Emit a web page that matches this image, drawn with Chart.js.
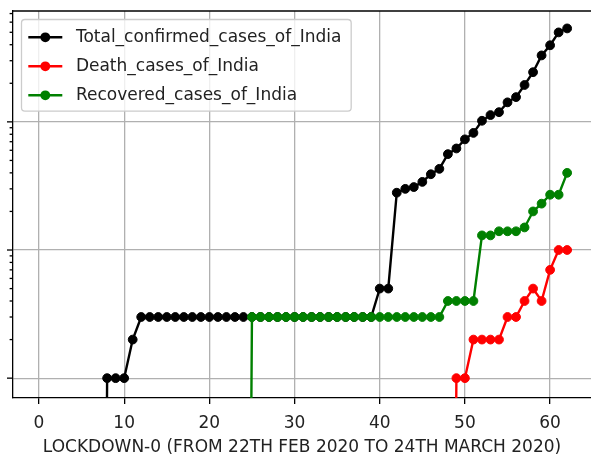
<!DOCTYPE html>
<html><head><meta charset="utf-8">
<script src="https://cdn.jsdelivr.net/npm/chart.js@4.4.0/dist/chart.umd.min.js"></script>
<style>html,body{margin:0;padding:0;background:#fff}#wrap{width:591px;height:454px;position:relative}</style>
</head><body><div id="wrap"><canvas id="c"></canvas></div>
<script>
// ---- data (day index from 22 Jan 2020) ----
const days = [0,1,2,3,4,5,6,7,8,9,10,11,12,13,14,15,16,17,18,19,20,21,22,23,24,25,26,27,28,29,30,31,32,33,34,35,36,37,38,39,40,41,42,43,44,45,46,47,48,49,50,51,52,53,54,55,56,57,58,59,60,61,62];
const totalCases = [0,0,0,0,0,0,0,0,1,1,1,2,3,3,3,3,3,3,3,3,3,3,3,3,3,3,3,3,3,3,3,3,3,3,3,3,3,3,3,3,5,5,28,30,31,34,39,43,56,62,73,82,102,113,119,142,156,194,244,330,396,499,536];
const deathCases = [0,0,0,0,0,0,0,0,0,0,0,0,0,0,0,0,0,0,0,0,0,0,0,0,0,0,0,0,0,0,0,0,0,0,0,0,0,0,0,0,0,0,0,0,0,0,0,0,0,1,1,2,2,2,2,3,3,4,5,4,7,10,10];
const recoveredCases = [0,0,0,0,0,0,0,0,0,0,0,0,0,0,0,0,0,0,0,0,0,0,0,0,0,3,3,3,3,3,3,3,3,3,3,3,3,3,3,3,3,3,3,3,3,3,3,3,4,4,4,4,13,13,14,14,14,15,20,23,27,27,40];
const seriesLabels = ['Total_confirmed_cases_of_India','Death_cases_of_India','Recovered_cases_of_India'];
const seriesColors = ['#000000','#ff0000','#008000'];
const xTickValues = [0,10,20,30,40,50,60];
const yMajorTicks = [1,10,100];
const xTitle = 'LOCKDOWN-0 (FROM 22TH FEB 2020 TO 24TH MARCH 2020)';

const FONT = '"DejaVu Sans", sans-serif';
const LOG_FLOOR = 1e-9; // non-positive values are clipped far below the log axis
function toPoints(vals){ return days.map((d,i)=>({x:d, y: vals[i] > 0 ? vals[i] : LOG_FLOOR})); }
const yTickValues = [];
yMajorTicks.forEach(m => { for (let k = 1; k <= 9; k++) yTickValues.push(m * k); });

const decor = {
  id: 'decor',
  afterDraw(chart) {
    const {ctx, chartArea: a, scales: {y}} = chart;
    ctx.save();
    ctx.strokeStyle = '#000'; ctx.lineWidth = 1.3;
    ctx.beginPath(); ctx.moveTo(a.left, a.top); ctx.lineTo(a.right, a.top); ctx.stroke();
    y.ticks.forEach(t => {
      const py = y.getPixelForValue(t.value);
      const len = t.major ? 6 : 3.4;
      ctx.beginPath(); ctx.moveTo(a.left - len, py); ctx.lineTo(a.left, py); ctx.stroke();
    });
    // legend (matplotlib style)
    ctx.font = '17px ' + FONT;
    const textW = Math.max(...seriesLabels.map(s => ctx.measureText(s).width));
    const pad = 6.8, handleLen = 34, handlePad = 13.6, rowH = 29, lineH = 20;
    const lx = a.left + 8.5, ly = a.top + 8.5;
    const w = pad + handleLen + handlePad + textW + pad + 3;
    const h = pad * 2 + rowH * (seriesLabels.length - 1) + lineH;
    ctx.beginPath();
    ctx.roundRect(lx, ly, w, h, 3.4);
    ctx.fillStyle = 'rgba(255,255,255,0.8)'; ctx.fill();
    ctx.strokeStyle = '#cccccc'; ctx.lineWidth = 1.3; ctx.stroke();
    seriesLabels.forEach((lab, i) => {
      const cy = ly + pad + lineH / 2 + 1 + i * rowH;
      ctx.strokeStyle = seriesColors[i]; ctx.fillStyle = seriesColors[i]; ctx.lineWidth = 2.4;
      ctx.beginPath(); ctx.moveTo(lx + pad, cy); ctx.lineTo(lx + pad + handleLen, cy); ctx.stroke();
      ctx.beginPath(); ctx.arc(lx + pad + handleLen / 2, cy, 4.9, 0, Math.PI * 2); ctx.fill();
      ctx.fillStyle = '#222'; ctx.textBaseline = 'middle'; ctx.textAlign = 'left';
      ctx.fillText(lab, lx + pad + handleLen + handlePad, cy);
    });
    ctx.restore();
  }
};

function ds(i, vals, order) {
  return {
    label: seriesLabels[i], data: toPoints(vals), order,
    borderColor: seriesColors[i], backgroundColor: seriesColors[i],
    pointBackgroundColor: seriesColors[i], pointBorderColor: seriesColors[i],
    pointRadius: 4.4, pointBorderWidth: 1, borderWidth: 2.4, tension: 0
  };
}

new Chart(document.getElementById('c'), {
  type: 'line',
  data: { datasets: [ ds(0, totalCases, 2), ds(1, deathCases, 1), ds(2, recoveredCases, 0) ] },
  options: {
    responsive: true, maintainAspectRatio: false, animation: false, devicePixelRatio: 1,
    layout: { autoPadding: false, padding: { top: 11, left: 0, right: 0, bottom: 0 } },
    plugins: { legend: { display: false }, tooltip: { enabled: false } },
    scales: {
      x: {
        type: 'linear', min: -3.05, max: 64.8,
        afterBuildTicks: s => { s.ticks = xTickValues.map(v => ({ value: v })); },
        afterFit: s => { s.height = 56; s.paddingLeft = 0; s.paddingRight = 0; },
        grid: { color: '#b0b0b0', lineWidth: 1.3, drawTicks: true, tickLength: 6, tickColor: '#000', tickWidth: 1.3 },
        border: { display: true, color: '#000', width: 1.3 },
        ticks: { font: { family: FONT, size: 17 }, color: '#222', padding: 9, maxRotation: 0, autoSkip: false },
        title: { display: true, text: xTitle, font: { family: FONT, size: 17 }, color: '#222', padding: { top: 0, bottom: -4 } }
      },
      y: {
        type: 'logarithmic', min: 0.74, max: 733,
        afterBuildTicks: s => { s.ticks = yTickValues.filter(v => v >= 0.74 && v <= 733).map(v => ({ value: v, major: yMajorTicks.includes(v) })); },
        afterFit: s => { s.width = 13; },
        grid: { color: c => (c.tick && c.tick.major) ? '#b0b0b0' : 'rgba(0,0,0,0)', lineWidth: 1.3, drawTicks: false },
        border: { display: true, color: '#000', width: 1.3 },
        ticks: { display: false }
      }
    }
  },
  plugins: [decor]
});
</script>
</body></html>
